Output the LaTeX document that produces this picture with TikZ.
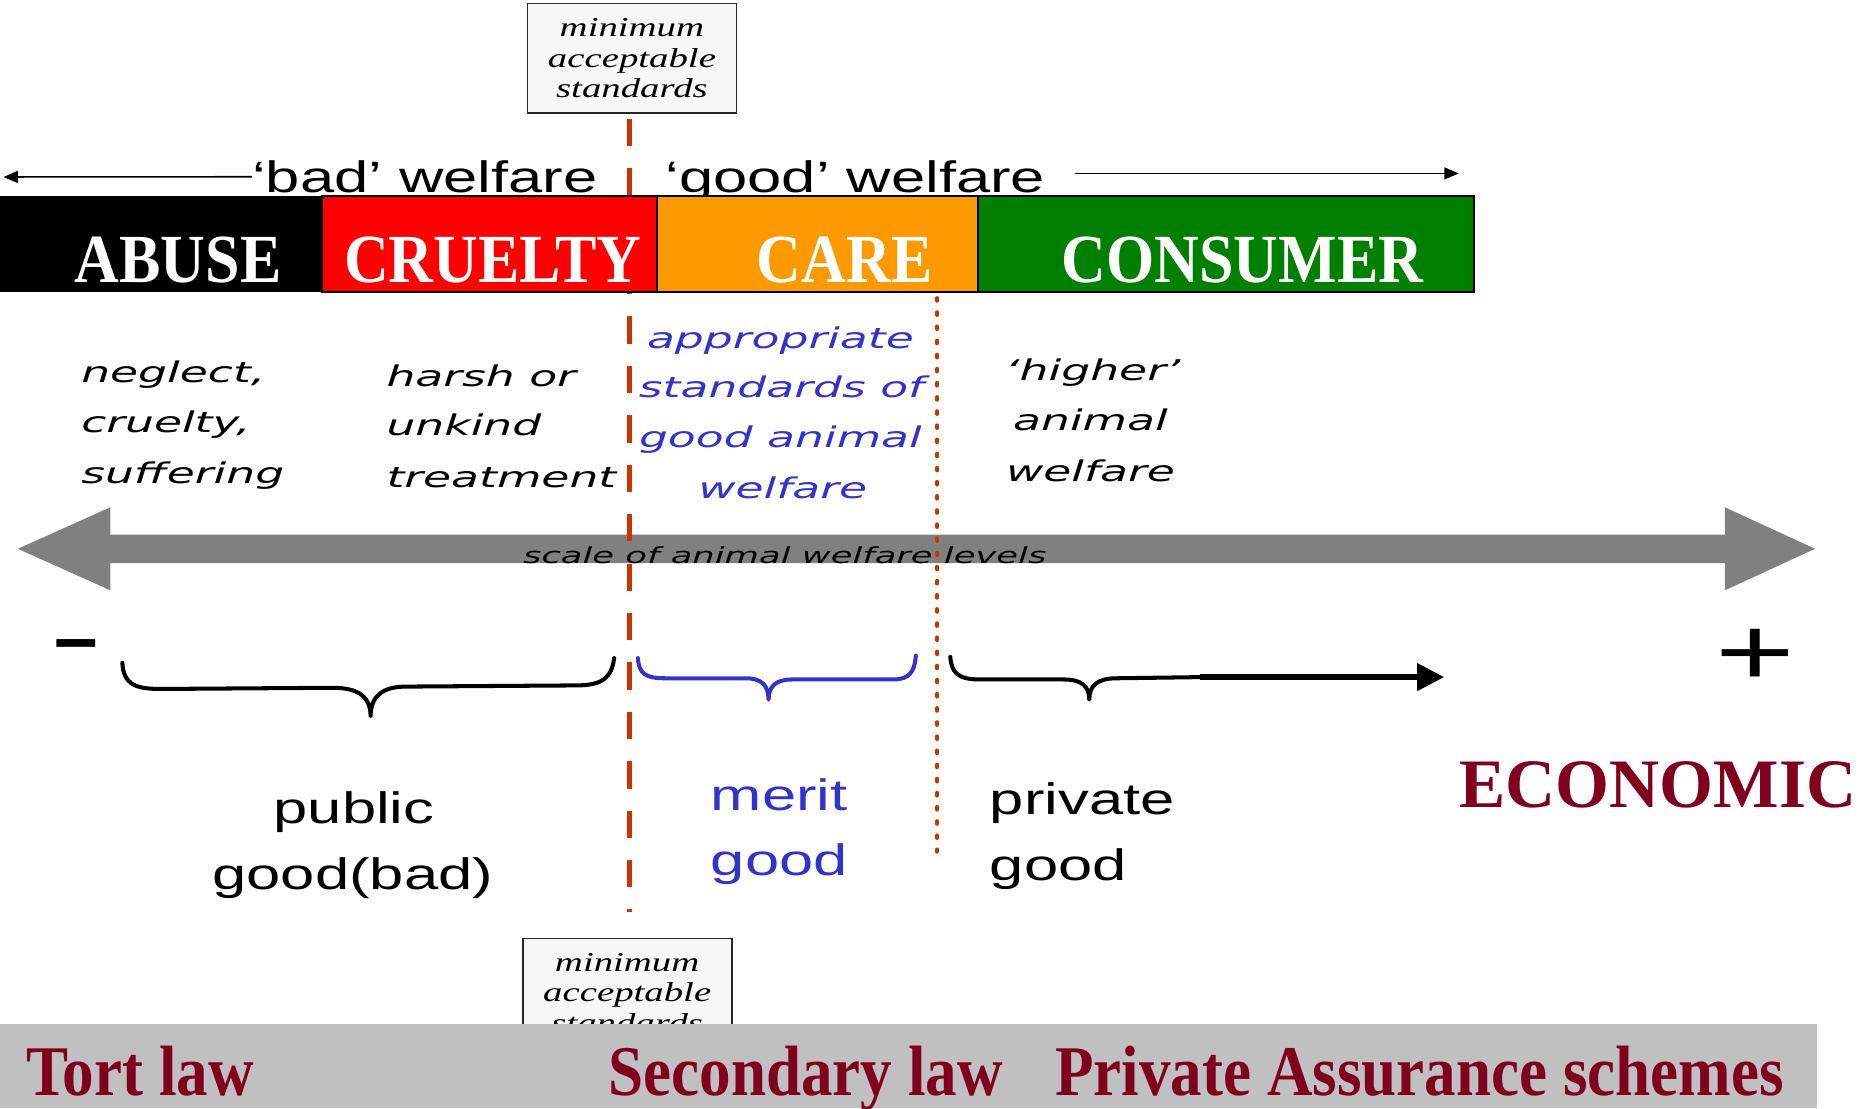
\documentclass[tikz,border=0pt]{standalone}
\usepackage{fontspec}
\usetikzlibrary{arrows.meta}
\setmainfont{Liberation Serif}
\newfontfamily\arialw[FakeStretch=1.4]{Liberation Sans}
\newfontfamily\arialplain{Liberation Sans}
\newfontfamily\verdi[FakeStretch=1.6]{DejaVu Sans}
\newfontfamily\serifit[FakeStretch=1.42]{Liberation Serif}
\newfontfamily\timescond[FakeStretch=0.9]{Liberation Serif}
\newfontfamily\timeslaw[FakeStretch=0.885]{Liberation Serif}
\newfontfamily\timesbold{Liberation Serif}
\definecolor{redline}{RGB}{204,51,0}
\definecolor{myblue}{RGB}{51,51,204}
\definecolor{maroon}{RGB}{128,0,32}
\definecolor{arrowgray}{RGB}{128,128,128}
\definecolor{bandgray}{RGB}{192,192,192}
\definecolor{boxgray}{RGB}{247,247,247}
\definecolor{cruelred}{RGB}{255,0,0}
\definecolor{careorange}{RGB}{255,153,0}
\definecolor{consgreen}{RGB}{0,128,0}
\tikzset{
  arialtxt/.style={font=\arialw\fontsize{18.5}{22}\selectfont, inner sep=0pt},
  vtxt/.style={font=\verdi\itshape\fontsize{12}{14}\selectfont, inner sep=0pt},
  bluev/.style={vtxt, text=myblue},
  bartxt/.style={font=\timescond\bfseries\fontsize{29}{32}\selectfont, text=white, inner sep=0pt, anchor=base},
  lawtxt/.style={font=\timeslaw\bfseries\fontsize{30}{33}\selectfont, text=maroon, inner sep=0pt, anchor=base west},
  boxstyle/.style={draw=black!85, fill=boxgray, line width=0.75pt, minimum width=88pt, minimum height=46pt, inner sep=0pt, align=center, font=\serifit\itshape\fontsize{11.5}{12.75}\selectfont},
  barseg/.style={draw=black, line width=0.75pt},
  thinarrow/.style={line width=0.65pt, -{Triangle[length=6pt,width=5pt]}},
  bracestyle/.style={line width=1.7pt, line cap=round, line join=round},
  dashedred/.style={draw=redline, line width=2.25pt, dash pattern=on 11.5pt off 9.3pt},
  dottedred/.style={draw=redline, line width=1.7pt, line cap=round, dash pattern=on 1.1pt off 4.85pt}
}
\begin{document}
\begin{tikzpicture}[x=0.5pt,y=-0.5pt]
\useasboundingbox (0,0) rectangle (1565,933);

% minimum acceptable standards boxes
\node[boxstyle] (topbox) at (532,49) {minimum\\acceptable\\standards};
\node[boxstyle] (botbox) at (528,836) {minimum\\acceptable\\standards};

% gray scale arrow
\fill[arrowgray] (15,462) -- (93,427) -- (93,450) -- (1452,450) -- (1452,427) -- (1528,462)
  -- (1452,497) -- (1452,474) -- (93,474) -- (93,497) -- cycle;

% red vertical lines
\coordinate (dtop) at (530,100);
\coordinate (dbot) at (530,768);
\draw[dashedred] (dtop) -- (dbot);
\coordinate (ptop) at (789,251);
\coordinate (pbot) at (789,717);
\draw[dottedred] (ptop) -- (pbot);

% welfare labels and arrows
\node[arialtxt, anchor=base west] (bad) at (212,162) {‘bad’ welfare};
\node[arialtxt, anchor=base west] (good) at (560,162) {‘good’ welfare};
\coordinate (la) at (3,149);
\draw[thinarrow] (bad.west) -- (la);
\coordinate (ra0) at (905,146);
\coordinate (ra1) at (1228,146);
\draw[thinarrow] (ra0) -- (ra1);

% bar
\fill[black] (0,165) rectangle (271,246);
\filldraw[barseg, fill=cruelred] (271,165) rectangle (553,246);
\filldraw[barseg, fill=careorange] (553,165) rectangle (823,246);
\filldraw[barseg, fill=consgreen] (823,165) rectangle (1241,246);
\node[bartxt] (abuse) at (150,238) {ABUSE};
\node[bartxt] (cruelty) at (415,238) {CRUELTY};
\node[bartxt] (care) at (711,238) {CARE};
\node[bartxt] (consumer) at (1046,238) {CONSUMER};

% descriptions
\node[vtxt, anchor=base west] (n1) at (68,322) {neglect,};
\node[vtxt, anchor=base west] (n2) at (68,364) {cruelty,};
\node[vtxt, anchor=base west] (n3) at (68,407) {suffering};
\node[vtxt, anchor=base west] (h1) at (325,325) {harsh or};
\node[vtxt, anchor=base west] (h2) at (325,367) {unkind};
\node[vtxt, anchor=base west] (h3) at (325,410) {treatment};
\node[bluev, anchor=base] (b1) at (657,293) {appropriate};
\node[bluev, anchor=base] (b2) at (658,335) {standards of};
\node[bluev, anchor=base] (b3) at (657,377) {good animal};
\node[bluev, anchor=base] (b4) at (659,420) {welfare};
\node[vtxt, anchor=base] (g1) at (920,320) {‘higher’};
\node[vtxt, anchor=base] (g2) at (918,362) {animal};
\node[vtxt, anchor=base] (g3) at (918,405) {welfare};

% scale label
\node[font=\verdi\itshape\fontsize{9.3}{11}\selectfont, inner sep=0pt, anchor=base west] (scale) at (440,474) {scale of animal welfare levels};

% minus / plus
\node[font=\arialplain\bfseries\fontsize{33}{33}\selectfont, inner sep=0pt, anchor=base] (minus) at (64,559) {–};
\node[font=\arialw\fontsize{41}{41}\selectfont, inner sep=0pt, anchor=base] (plus) at (1478,577) {+};

% braces
\draw[bracestyle] (103,558) .. controls (104,575) and (112,580) .. (135,580) -- (280,579)
  .. controls (301,579) and (312,586) .. (312,603)
  .. controls (312,586) and (322,578) .. (342,578) -- (485,577)
  .. controls (508,577) and (515,570) .. (517,554);
\draw[bracestyle, draw=myblue] (537,554) .. controls (538,567) and (543,571) .. (560,571) -- (628,571)
  .. controls (641,571) and (647,577) .. (647,589)
  .. controls (647,577) and (654,572) .. (667,572) -- (752,572)
  .. controls (766,572) and (770,565) .. (771,552);
\draw[bracestyle] (800,553) .. controls (801,566) and (806,572) .. (825,572) -- (895,572)
  .. controls (910,572) and (917,577) .. (917,589)
  .. controls (917,577) and (924,571) .. (940,571) -- (1012,570);
\coordinate (ea0) at (1010,570);
\coordinate (ea1) at (1216,570);
\draw[line width=2.8pt, -{Triangle[length=11.5pt,width=11pt]}] (ea0) -- (ea1);

% goods
\node[arialtxt, anchor=base] (pub1) at (298,693) {public};
\node[arialtxt, anchor=base] (pub2) at (297,749) {good(bad)};
\node[arialtxt, anchor=base west, text=myblue] (mer1) at (598,682) {merit};
\node[arialtxt, anchor=base west, text=myblue] (mer2) at (598,737) {good};
\node[arialtxt, anchor=base west] (pri1) at (833,686) {private};
\node[arialtxt, anchor=base west] (pri2) at (833,741) {good};

\node[font=\timesbold\bfseries\fontsize{29.2}{32}\selectfont, text=maroon, inner sep=0pt, anchor=base west] (econ) at (1228,680) {ECONOMIC};

% bottom band
\fill[bandgray] (0,862) rectangle (1530,933);
\node[lawtxt] (tort) at (22,922) {Tort law};
\node[lawtxt] (second) at (512,922) {Secondary law};
\node[lawtxt] (private) at (888,922) {Private Assurance schemes};
\end{tikzpicture}
\end{document}
